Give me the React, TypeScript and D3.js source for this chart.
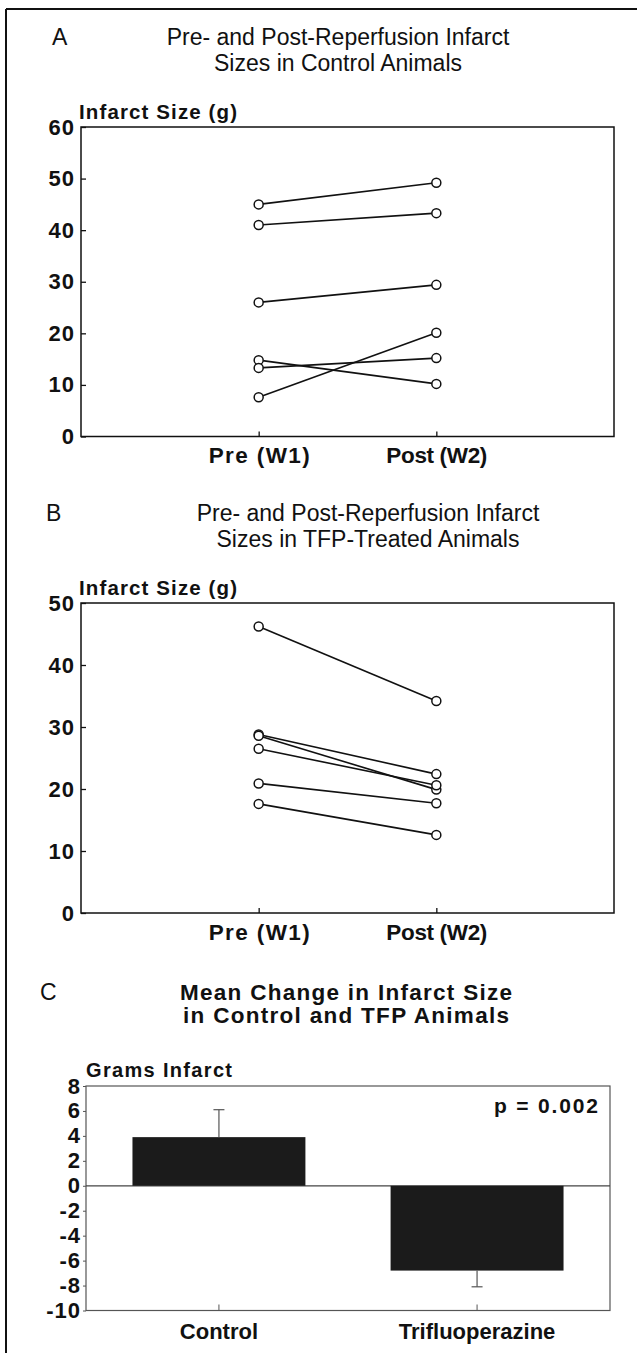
import React, { useEffect, useRef } from "react";
import * as d3 from "d3";

// panel A / B : paired infarct sizes (g)
const timepoints = ["Pre (W1)", "Post (W2)"];
const controlPre = [45, 41, 26, 14.8, 13.3, 7.6];
const controlPost = [49.2, 43.3, 29.4, 10.2, 15.2, 20.1];
const controlTicks = [0, 10, 20, 30, 40, 50, 60];
const tfpPre = [46.2, 28.8, 28.6, 26.5, 20.9, 17.6];
const tfpPost = [34.2, 22.4, 19.9, 20.6, 17.7, 12.6];
const tfpTicks = [0, 10, 20, 30, 40, 50];

// panel C : mean change in infarct size
const groups = ["Control", "Trifluoperazine"];
const meanChange = [3.9, -6.8];
const changeSem = [2.2, 1.3];
const changeTicks = [8, 6, 4, 2, 0, -2, -4, -6, -8, -10];

const FONT = "'Liberation Sans', Arial, Helvetica, sans-serif";

const drawPaired = (svg, o) => {
  const g = svg.append("g");
  const left = 81;
  const right = 614;
  const x = d3.scalePoint().domain(timepoints).range([left, right]).padding(1);
  const y = d3.scaleLinear().domain([0, o.max]).range([o.bottom, o.top]);

  g.append("text")
    .attr("x", o.letterX)
    .attr("y", o.top - 82)
    .attr("font-size", 23)
    .text(o.letter);
  o.title.forEach((t, i) => {
    g.append("text")
      .attr("x", o.titleX)
      .attr("y", o.top - 82 + i * 26)
      .attr("text-anchor", "middle")
      .attr("font-size", 23)
      .text(t);
  });
  g.append("text")
    .attr("x", left - 2)
    .attr("y", o.top - 8)
    .attr("font-size", 20.5)
    .attr("font-weight", "bold")
    .attr("textLength", 158)
    .attr("lengthAdjust", "spacing")
    .text("Infarct Size (g)");

  g.append("rect")
    .attr("x", left)
    .attr("y", o.top)
    .attr("width", right - left)
    .attr("height", o.bottom - o.top)
    .attr("fill", "none")
    .attr("stroke", "#111")
    .attr("stroke-width", 1.5);

  const ya = g
    .append("g")
    .attr("transform", `translate(${left},0)`)
    .call(d3.axisLeft(y).tickValues(o.ticks).tickSizeInner(-5).tickSizeOuter(0).tickPadding(6));
  ya.select(".domain").remove();
  ya.selectAll("line").attr("stroke", "#111").attr("stroke-width", 1.3);
  ya.selectAll("text")
    .attr("font-family", FONT)
    .attr("font-size", 22)
    .attr("font-weight", "bold")
    .attr("letter-spacing", 1)
    .attr("fill", "#111");

  const xa = g
    .append("g")
    .attr("transform", `translate(0,${o.bottom})`)
    .call(d3.axisBottom(x).tickSizeInner(-5).tickSizeOuter(0).tickPadding(11));
  xa.select(".domain").remove();
  xa.selectAll("line").attr("stroke", "#111").attr("stroke-width", 1.3);
  xa.selectAll("text")
    .attr("font-family", FONT)
    .attr("font-size", 22.5)
    .attr("font-weight", "bold")
    .attr("textLength", 101)
    .attr("lengthAdjust", "spacing")
    .attr("fill", "#111");

  const pairs = o.pre.map((v, i) => [v, o.post[i]]);
  g.selectAll("line.pair")
    .data(pairs)
    .enter()
    .append("line")
    .attr("class", "pair")
    .attr("x1", x(timepoints[0]))
    .attr("x2", x(timepoints[1]))
    .attr("y1", d => y(d[0]))
    .attr("y2", d => y(d[1]))
    .attr("stroke", "#111")
    .attr("stroke-width", 1.6);

  const pts = pairs.flatMap(d => [
    { t: timepoints[0], v: d[0] },
    { t: timepoints[1], v: d[1] }
  ]);
  g.selectAll("circle")
    .data(pts)
    .enter()
    .append("circle")
    .attr("cx", d => x(d.t))
    .attr("cy", d => y(d.v))
    .attr("r", 4.5)
    .attr("fill", "#fff")
    .attr("stroke", "#111")
    .attr("stroke-width", 1.5);
};

const drawChange = svg => {
  const g = svg.append("g");
  const left = 86;
  const right = 610;
  const top = 1086;
  const bottom = 1310.5;
  const x = d3.scaleBand().domain(groups).range([left, right]).paddingInner(0.33).paddingOuter(0.18);
  const y = d3.scaleLinear().domain([-10, 8]).range([bottom, top]);

  g.append("text").attr("x", 40).attr("y", 1000).attr("font-size", 23).text("C");
  ["Mean Change in Infarct Size", "in Control and TFP Animals"].forEach((t, i) => {
    g.append("text")
      .attr("x", 346)
      .attr("y", 1000 + i * 23)
      .attr("text-anchor", "middle")
      .attr("font-size", 22.5)
      .attr("font-weight", "bold")
      .attr("textLength", i === 0 ? 332 : 326)
      .attr("lengthAdjust", "spacing")
      .text(t);
  });
  g.append("text")
    .attr("x", left)
    .attr("y", 1077)
    .attr("font-size", 20)
    .attr("font-weight", "bold")
    .attr("textLength", 146)
    .attr("lengthAdjust", "spacing")
    .text("Grams Infarct");

  g.append("rect")
    .attr("x", left)
    .attr("y", top)
    .attr("width", right - left)
    .attr("height", bottom - top)
    .attr("fill", "none")
    .attr("stroke", "#555")
    .attr("stroke-width", 1.2);

  g.append("line")
    .attr("x1", left)
    .attr("x2", right)
    .attr("y1", y(0))
    .attr("y2", y(0))
    .attr("stroke", "#444")
    .attr("stroke-width", 1.2);

  const ya = g
    .append("g")
    .attr("transform", `translate(${left},0)`)
    .call(
      d3.axisLeft(y)
        .tickValues(changeTicks)
        .tickFormat(d => (d < 0 ? "-" + Math.abs(d) : String(d)))
        .tickSize(3)
        .tickPadding(2)
    );
  ya.select(".domain").remove();
  ya.selectAll("line").attr("stroke", "#555");
  ya.selectAll("text")
    .attr("font-family", FONT)
    .attr("font-size", 22)
    .attr("font-weight", "bold")
    .attr("letter-spacing", 1)
    .attr("fill", "#111");

  const xa = g
    .append("g")
    .attr("transform", `translate(0,${bottom})`)
    .call(d3.axisBottom(x).tickSizeInner(-6).tickSizeOuter(0).tickPadding(13));
  xa.select(".domain").remove();
  xa.selectAll("line").attr("stroke", "#555");
  xa.selectAll("text")
    .attr("font-family", FONT)
    .attr("font-size", 22)
    .attr("font-weight", "bold")
    .attr("fill", "#111");

  const data = groups.map((k, i) => ({ k, v: meanChange[i], e: changeSem[i] }));
  g.selectAll("rect.bar")
    .data(data)
    .enter()
    .append("rect")
    .attr("class", "bar")
    .attr("x", d => x(d.k))
    .attr("width", x.bandwidth())
    .attr("y", d => y(Math.max(0, d.v)))
    .attr("height", d => Math.abs(y(d.v) - y(0)))
    .attr("fill", "#1b1b1b");

  const cx = d => x(d.k) + x.bandwidth() / 2;
  const tip = d => y(d.v + Math.sign(d.v) * d.e);
  g.selectAll("line.err")
    .data(data)
    .enter()
    .append("line")
    .attr("class", "err")
    .attr("x1", cx)
    .attr("x2", cx)
    .attr("y1", d => y(d.v))
    .attr("y2", tip)
    .attr("stroke", "#555")
    .attr("stroke-width", 1.2);
  g.selectAll("line.cap")
    .data(data)
    .enter()
    .append("line")
    .attr("class", "cap")
    .attr("x1", d => cx(d) - 5.5)
    .attr("x2", d => cx(d) + 5.5)
    .attr("y1", tip)
    .attr("y2", tip)
    .attr("stroke", "#555")
    .attr("stroke-width", 1.2);

  g.append("text")
    .attr("x", 598)
    .attr("y", 1113)
    .attr("text-anchor", "end")
    .attr("font-size", 21)
    .attr("font-weight", "bold")
    .attr("textLength", 104)
    .attr("lengthAdjust", "spacing")
    .text("p = 0.002");
};

const App = () => {
  const ref = useRef(null);

  useEffect(() => {
    const svg = d3.select(ref.current);
    svg.selectAll("*").remove();
    svg.attr("font-family", FONT).attr("fill", "#111");

    // outer figure border (top and left edges only)
    svg.append("line").attr("x1", 6).attr("x2", 637).attr("y1", 9).attr("y2", 9)
      .attr("stroke", "#111").attr("stroke-width", 2);
    svg.append("line").attr("x1", 6).attr("x2", 6).attr("y1", 9).attr("y2", 1353)
      .attr("stroke", "#111").attr("stroke-width", 2);

    drawPaired(svg, {
      top: 127,
      bottom: 436.5,
      max: 60,
      ticks: controlTicks,
      pre: controlPre,
      post: controlPost,
      letter: "A",
      letterX: 52,
      titleX: 338,
      title: ["Pre- and Post-Reperfusion Infarct", "Sizes in Control Animals"]
    });
    drawPaired(svg, {
      top: 603,
      bottom: 913,
      max: 50,
      ticks: tfpTicks,
      pre: tfpPre,
      post: tfpPost,
      letter: "B",
      letterX: 46,
      titleX: 368,
      title: ["Pre- and Post-Reperfusion Infarct", "Sizes in TFP-Treated Animals"]
    });
    drawChange(svg);
  }, []);

  return (
    <svg
      ref={ref}
      width={637}
      height={1353}
      style={{ position: "absolute", left: 0, top: 0, background: "#fff" }}
    />
  );
};

export default App;
